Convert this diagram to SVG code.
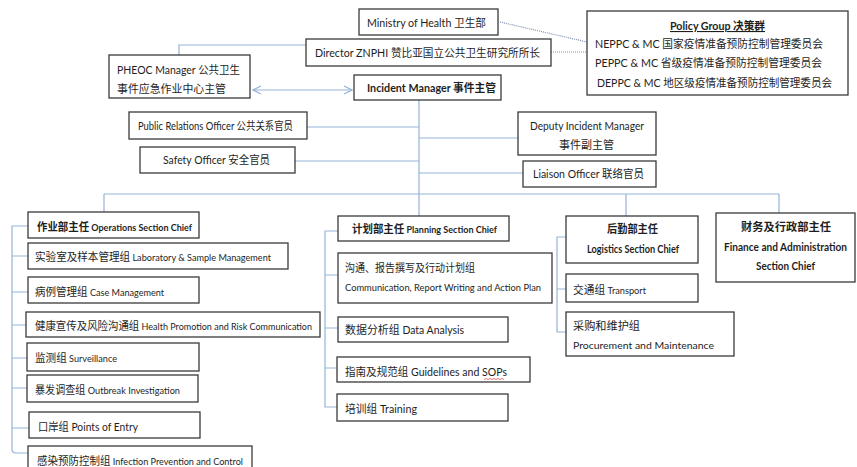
<svg xmlns="http://www.w3.org/2000/svg" width="857" height="467" viewBox="0 0 857 467">
<defs>
<style>
text{font-family:Lato,"Noto Sans CJK SC","Noto Sans",sans-serif;fill:#1e1e1e;font-size:11px}
.b{font-weight:bold}
.m{text-anchor:middle}
.s{font-size:10px}
.box{fill:#fff;stroke:#3a3a3a;stroke-width:1.3}
.c{fill:none;stroke:#95b3d7;stroke-width:1.2}
.d{fill:none;stroke:#7f90b0;stroke-width:1.2;stroke-dasharray:1 1}
</style>
<marker id="ah" viewBox="0 0 10 10" refX="9" refY="5" markerWidth="10" markerHeight="10" markerUnits="userSpaceOnUse" orient="auto-start-reverse">
<path d="M1,1 L9,5 L1,9" fill="none" stroke="#95b3d7" stroke-width="1.2"/>
</marker>
</defs>
<rect width="857" height="467" fill="#fff"/>
<g id="connectors">
<path class="d" d="M500,22 L587,42"/>
<path class="d" d="M551,52 L587,52"/>
<path class="c" d="M179,55 V45 H306"/>
<path class="c" d="M253,90 H352" marker-start="url(#ah)" marker-end="url(#ah)"/>
<path class="c" d="M419,100 V216"/>
<path class="c" d="M307,127 H419"/>
<path class="c" d="M295,161 H419"/>
<path class="c" d="M419,138 H518"/>
<path class="c" d="M419,173 H523"/>
<path class="c" d="M104,194 H779"/>
<path class="c" d="M104,194 V212"/>
<path class="c" d="M626,194 V216"/>
<path class="c" d="M779,194 V213"/>
<path class="c" d="M28,226 H12 V449 Q12,453 16,453 H28"/>
<path class="c" d="M12,256 H28 M12,292 H28 M12,325 H26 M12,358 H27 M12,388 H27 M12,428 H29"/>
<path class="c" d="M338,231 H325 V407 H337 M325,275 H338 M325,328 H338 M325,368 H337"/>
<path class="c" d="M566,237 H557 V332 H566 M557,289 H566"/>
</g>
<g id="ministry"><rect class="box" x="359" y="9" width="139" height="26"/><text x="367" y="27" textLength="119" lengthAdjust="spacingAndGlyphs">Ministry of Health 卫生部</text></g>
<g id="director"><rect class="box" x="306" y="39" width="245" height="27"/><text x="315" y="57" textLength="225" lengthAdjust="spacingAndGlyphs">Director ZNPHI 赞比亚国立公共卫生研究所所长</text></g>
<g id="policy"><rect class="box" x="587" y="11" width="261" height="84"/>
<text class="b" x="670" y="30" text-decoration="underline" textLength="95" lengthAdjust="spacingAndGlyphs">Policy Group 决策群</text>
<text x="595" y="48" textLength="228" lengthAdjust="spacingAndGlyphs">NEPPC &amp; MC 国家疫情准备预防控制管理委员会</text>
<text x="595" y="67" textLength="227" lengthAdjust="spacingAndGlyphs">PEPPC &amp; MC 省级疫情准备预防控制管理委员会</text>
<text x="597" y="87" textLength="235" lengthAdjust="spacingAndGlyphs">DEPPC &amp; MC 地区级疫情准备预防控制管理委员会</text></g>
<g id="pheoc"><rect class="box" x="109" y="55" width="141" height="43"/><text x="117" y="74" textLength="123" lengthAdjust="spacingAndGlyphs">PHEOC Manager 公共卫生</text><text x="117" y="93" textLength="109" lengthAdjust="spacingAndGlyphs">事件应急作业中心主管</text></g>
<g id="incident"><rect class="box" x="354" y="75" width="147" height="25"/><text class="b" x="367" y="92" textLength="129" lengthAdjust="spacingAndGlyphs">Incident Manager 事件主管</text></g>
<g id="pro"><rect class="box" x="129" y="112" width="178" height="27"/><text x="138" y="130" textLength="155" lengthAdjust="spacingAndGlyphs">Public Relations Officer 公共关系官员</text></g>
<g id="safety"><rect class="box" x="140" y="147" width="155" height="26"/><text x="163" y="164" textLength="107" lengthAdjust="spacingAndGlyphs">Safety Officer 安全官员</text></g>
<g id="deputy"><rect class="box" x="518" y="112" width="138" height="43"/><text x="530" y="130" textLength="114" lengthAdjust="spacingAndGlyphs">Deputy Incident Manager</text><text x="559" y="149" textLength="55" lengthAdjust="spacingAndGlyphs">事件副主管</text></g>
<g id="liaison"><rect class="box" x="523" y="161" width="133" height="26"/><text x="533" y="178" textLength="111" lengthAdjust="spacingAndGlyphs">Liaison Officer 联络官员</text></g>
<g id="ops"><rect class="box" x="28" y="212" width="171" height="26"/><text class="b" x="37" y="231" textLength="155" lengthAdjust="spacingAndGlyphs"><tspan>作业部主任</tspan><tspan font-size="9.5"> Operations Section Chief</tspan></text></g>
<g id="lab"><rect class="box" x="28" y="243" width="260" height="26"/><text x="35" y="261" textLength="236" lengthAdjust="spacingAndGlyphs">实验室及样本管理组<tspan font-size="9.5"> Laboratory &amp; Sample Management</tspan></text></g>
<g id="case"><rect class="box" x="28" y="277" width="171" height="26"/><text x="35" y="296" textLength="129" lengthAdjust="spacingAndGlyphs">病例管理组<tspan font-size="9.5"> Case Management</tspan></text></g>
<g id="health"><rect class="box" x="26" y="312" width="294" height="25"/><text x="35" y="330" textLength="277" lengthAdjust="spacingAndGlyphs">健康宣传及风险沟通组<tspan font-size="9.5"> Health Promotion and Risk Communication</tspan></text></g>
<g id="surv"><rect class="box" x="27" y="343" width="172" height="28"/><text x="35" y="362" textLength="82" lengthAdjust="spacingAndGlyphs">监测组<tspan font-size="9.5"> Surveillance</tspan></text></g>
<g id="outbreak"><rect class="box" x="27" y="375" width="171" height="27"/><text x="35" y="394" textLength="145" lengthAdjust="spacingAndGlyphs">暴发调查组<tspan font-size="10"> Outbreak Investigation</tspan></text></g>
<g id="poe"><rect class="box" x="29" y="412" width="171" height="26"/><text x="38" y="431" textLength="100" lengthAdjust="spacingAndGlyphs">口岸组 Points of Entry</text></g>
<g id="ipc"><rect class="box" x="28" y="446" width="224" height="30"/><text x="37" y="465" textLength="206" lengthAdjust="spacingAndGlyphs">感染预防控制组<tspan font-size="9.5"> Infection Prevention and Control</tspan></text></g>
<g id="planning"><rect class="box" x="338" y="216" width="171" height="25"/><text class="b" x="352" y="233" textLength="145" lengthAdjust="spacingAndGlyphs"><tspan>计划部主任</tspan><tspan font-size="9.5"> Planning Section Chief</tspan></text></g>
<g id="comm"><rect class="box" x="338" y="253" width="214" height="50"/><text x="345" y="272" textLength="130" lengthAdjust="spacingAndGlyphs">沟通、报告撰写及行动计划组</text><text class="s" x="345" y="291" textLength="196" lengthAdjust="spacingAndGlyphs">Communication, Report Writing and Action Plan</text></g>
<g id="data"><rect class="box" x="338" y="317" width="170" height="25"/><text x="345" y="334" textLength="119" lengthAdjust="spacingAndGlyphs">数据分析组<tspan font-size="10.5"> Data Analysis</tspan></text></g>
<g id="guide"><rect class="box" x="337" y="357" width="193" height="25"/><text x="345" y="376" textLength="162" lengthAdjust="spacingAndGlyphs">指南及规范组<tspan font-size="11"> Guidelines and SOPs</tspan></text><path d="M484,379.5 l2,-1 l2,1 l2,-1 l2,1 l2,-1 l2,1 l2,-1 l2,1 l2,-1 l2,1" fill="none" stroke="#e05050" stroke-width="0.8"/></g>
<g id="training"><rect class="box" x="337" y="394" width="171" height="27"/><text x="345" y="413" textLength="72" lengthAdjust="spacingAndGlyphs">培训组<tspan font-size="11"> Training</tspan></text></g>
<g id="logistics"><rect class="box" x="566" y="216" width="132" height="47"/><text class="b" x="607" y="233" textLength="51" lengthAdjust="spacingAndGlyphs">后勤部主任</text><text class="b" x="587" y="253" font-size="9.5" textLength="92" lengthAdjust="spacingAndGlyphs">Logistics Section Chief</text></g>
<g id="transport"><rect class="box" x="566" y="274" width="132" height="28"/><text x="573" y="294" textLength="73" lengthAdjust="spacingAndGlyphs">交通组<tspan font-size="9.5"> Transport</tspan></text></g>
<g id="procure"><rect class="box" x="566" y="312" width="168" height="44"/><text x="573" y="330" textLength="67" lengthAdjust="spacingAndGlyphs">采购和维护组</text><text class="s" x="573" y="349" textLength="141" lengthAdjust="spacingAndGlyphs">Procurement and Maintenance</text></g>
<g id="finance"><rect class="box" x="716" y="213" width="139" height="69"/><text class="b" x="741" y="231" textLength="90" lengthAdjust="spacingAndGlyphs">财务及行政部主任</text><text class="b" x="724" y="251" font-size="11" textLength="123" lengthAdjust="spacingAndGlyphs">Finance and Administration</text><text class="b" x="756" y="270" font-size="11" textLength="59" lengthAdjust="spacingAndGlyphs">Section Chief</text></g>
</svg>
